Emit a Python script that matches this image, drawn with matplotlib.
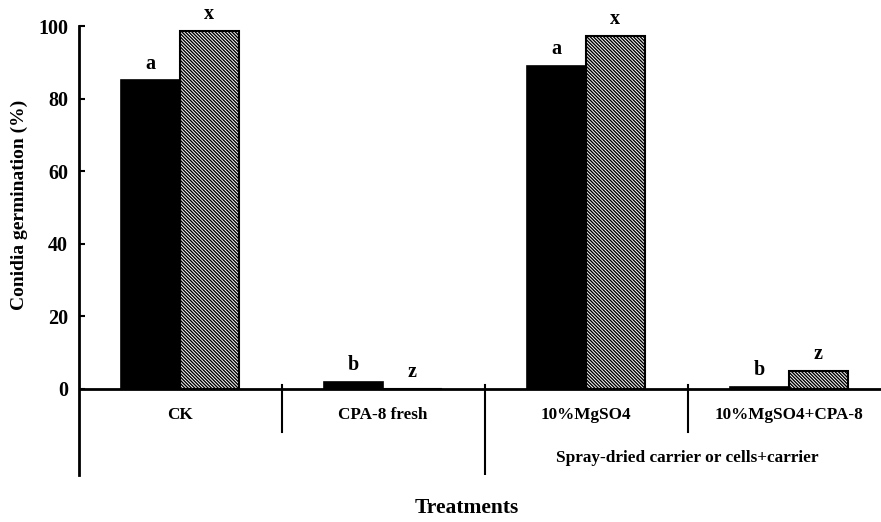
import numpy as np
import matplotlib
matplotlib.use("Agg")
import matplotlib.pyplot as plt

# ── Datos ────────────────────────────────────────────────────────────────────
tratamientos = ["CK", "CPA-8 fresh", "10%MgSO4", "10%MgSO4+CPA-8"]
serie_negra = [85.0, 1.9, 88.9, 0.5]
serie_rayada = [98.6, 0.0, 97.2, 5.0]
letras_negra = ["a", "b", "a", "b"]
letras_rayada = ["x", "z", "x", "z"]
grupo_label = "Spray-dried carrier or cells+carrier"

plt.rcParams["font.family"] = ["Liberation Serif", "DejaVu Serif"]
plt.rcParams["font.weight"] = "bold"
plt.rcParams["hatch.linewidth"] = 1.0

fig = plt.figure(figsize=(8.81, 5.22), dpi=100)
ax = fig.add_axes([79 / 881, 1 - 475 / 522, 1 - 79 / 881, (475 - 26) / 522])

x = np.arange(len(tratamientos))
w = 0.29
ymin = -23.7

ax.bar(x - w / 2, serie_negra, w, color="black", edgecolor="black", lw=1.2)
ax.bar(x + w / 2, serie_rayada, w, color="white", edgecolor="black",
       hatch="\\" * 10, lw=1.5)

for xi, v, t in zip(x - w / 2, serie_negra, letras_negra):
    ax.annotate(t, (xi, v), xytext=(0, 5), textcoords="offset points",
                ha="center", va="bottom", fontsize=14.5, fontweight="bold")
for xi, v, t in zip(x + w / 2, serie_rayada, letras_rayada):
    ax.annotate(t, (xi, v), xytext=(0, 5), textcoords="offset points",
                ha="center", va="bottom", fontsize=14.5, fontweight="bold")

ax.axhline(0, color="black", lw=2)

# separadores verticales
ax.plot([0.5, 0.5], [1.1, -11.8], color="black", lw=1.5)
ax.plot([2.5, 2.5], [1.1, -11.8], color="black", lw=1.5)
ax.plot([1.5, 1.5], [1.1, ymin], color="black", lw=1.5)

for xi, t in zip(x, tratamientos):
    ax.text(xi, -7.2, t, ha="center", va="center", fontsize=12.3, fontweight="bold")
ax.text(2.5, -19.0, grupo_label, ha="center", va="center", fontsize=12.4,
        fontweight="bold")

ax.set_xlim(-(180 - 79) / 203, 3 + (881 - 789) / 203)
ax.set_ylim(ymin, 100)
ax.set_yticks([0, 20, 40, 60, 80, 100])
ax.tick_params(axis="y", direction="in", length=4, width=1.5, labelsize=14.5, pad=8)
ax.set_xticks([])
for lbl in ax.get_yticklabels():
    lbl.set_fontweight("bold")
for s in ["top", "right", "bottom"]:
    ax.spines[s].set_visible(False)
ax.spines["left"].set_linewidth(2)

fig.text(19 / 881, 1 - 205 / 522, "Conidia germination (%)", rotation=90,
         ha="center", va="center", fontsize=14, fontweight="bold")
fig.text(467 / 881, 1 - 518 / 522, "Treatments", ha="center", va="bottom",
         fontsize=15.5, fontweight="bold")

fig.savefig("out.png", dpi=100)
